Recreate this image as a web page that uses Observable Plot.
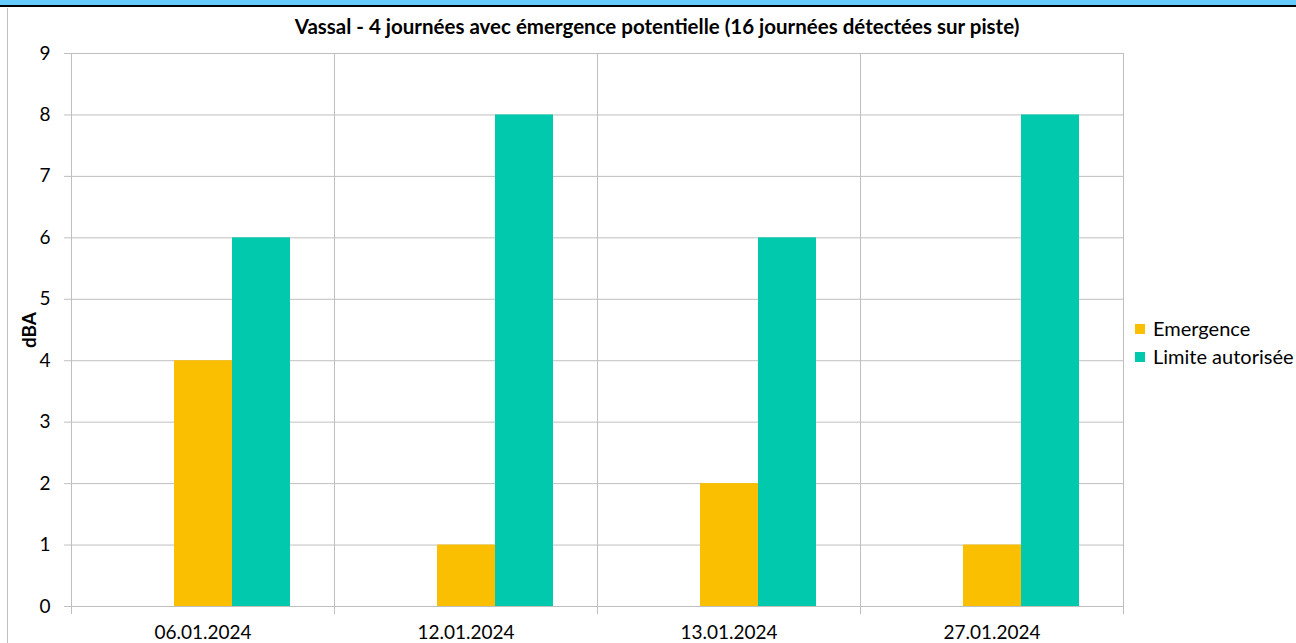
<!DOCTYPE html>
<html><head><meta charset="utf-8">
<script src="https://cdn.jsdelivr.net/npm/d3@7"></script>
<script src="https://cdn.jsdelivr.net/npm/@observablehq/plot@0.6"></script>
<style>
html,body{margin:0;padding:0;background:#fff;}
#wrap{position:relative;width:1296px;height:643px;overflow:hidden;font-family:Lato,"Open Sans",sans-serif;}
#topbar{position:absolute;left:0;top:0;width:1296px;height:5px;background:#66CCFF;border-bottom:2px solid #000;}
#border{position:absolute;left:7px;top:8px;width:0;height:640px;border-left:1px solid #c0c0c0;}
#title{position:absolute;left:0;top:14px;width:1314px;text-align:center;font-weight:bold;font-size:20.5px;color:#000;}
#ylab{position:absolute;left:28px;top:330px;transform:translate(-50%,-50%) rotate(-90deg);font-weight:bold;font-size:19px;}
#legend{position:absolute;left:1135px;top:314px;font-size:20px;line-height:28px;}
#legend .sw{display:inline-block;width:10px;height:10px;margin-right:8px;vertical-align:middle;position:relative;top:-2px;}
#chart{position:absolute;left:0;top:0;}
</style></head>
<body><div id="wrap">
<div id="topbar"></div><div id="border"></div>
<div id="title">Vassal - 4 journées avec émergence potentielle (16 journées détectées sur piste)</div>
<div id="ylab">dBA</div>
<div id="legend"></div>
<div id="chart"></div>
</div>
<script>
const dates = ["06.01.2024","12.01.2024","13.01.2024","27.01.2024"];
const seriesNames = ["Emergence","Limite autorisée"];
const emergence = [4,1,2,1];
const limite = [6,8,6,8];
const colors = ["#F9BF00","#00C9AD"];
const yTicks = [0,1,2,3,4,5,6,7,8,9];

const data = [];
dates.forEach((d,i)=>{
  data.push({date:d, series:seriesNames[0], value:emergence[i]});
  data.push({date:d, series:seriesNames[1], value:limite[i]});
});
const grid = "#BFBFBF";
const plot = Plot.plot({
  width:1296, height:643,
  marginTop:53, marginBottom:37, marginLeft:71, marginRight:173,
  style:{fontFamily:"Lato, 'Open Sans', sans-serif", fontSize:"19px", color:"#000", background:"transparent"},
  fx:{domain:dates, padding:0, label:null},
  x:{domain:["", ...seriesNames], paddingInner:0, paddingOuter:0.767, axis:null},
  y:{domain:[0,9], ticks:yTicks, label:null},
  color:{domain:seriesNames, range:colors},
  marks:[
    Plot.gridY(yTicks,{stroke:grid, strokeOpacity:1}),
    Plot.frame({anchor:"left", stroke:grid, insetBottom:-7}),
    Plot.frame({anchor:"right", stroke:grid, insetBottom:-7}),
    Plot.barY(data,{fx:"date", x:"series", y:"value", fill:"series"}),
    Plot.axisY(yTicks,{tickSize:7, tickPadding:14, stroke:grid, label:null, tickFormat:d=>String(d)}),
    Plot.axisFx({anchor:"bottom", tickSize:0, tickPadding:19, label:null})
  ]
});
document.getElementById("chart").appendChild(plot);
const lg = document.getElementById("legend");
seriesNames.forEach((s,i)=>{
  const row = document.createElement("div");
  row.innerHTML = `<span class="sw" style="background:${colors[i]}"></span>${s}`;
  lg.appendChild(row);
});
</script>
</body></html>
